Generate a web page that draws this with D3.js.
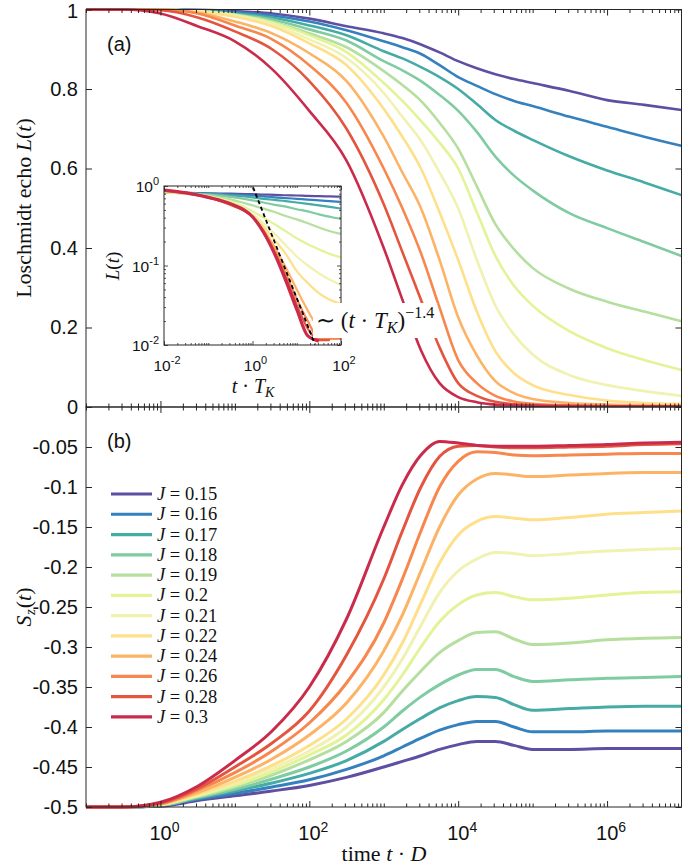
<!DOCTYPE html>
<html><head><meta charset="utf-8">
<script src="https://cdn.jsdelivr.net/npm/d3@7"></script>
<style>body{margin:0;background:#fff}</style>
</head><body>
<svg id="c" width="685" height="867" xmlns="http://www.w3.org/2000/svg"></svg>
<script>
// ---------- DATA ----------
const Jlabels = ["0.15","0.16","0.17","0.18","0.19","0.2","0.21","0.22","0.24","0.26","0.28","0.3"];
const colors = ["#5e4fa2","#3581bd","#47aba5","#7fcba2","#b5df9f","#e2f398","#f1f1b2","#fee08b","#fcb366","#f7874d","#e4553f","#cb2b4b"];

const timeGrid = [1e-1,3.16e-1,1,3.16,1e1,3.16e1,1e2,3.16e2,1e3,1.78e3,3.16e3,5.62e3,1e4,1.78e4,3.16e4,5.62e4,1e5,3.16e5,1e6,3.16e6,1e7];

// Loschmidt echo L(t), panel (a)
const echo015 = [1,1,1,0.999,0.996,0.99,0.977,0.958,0.94,0.928,0.912,0.892,0.87,0.852,0.837,0.825,0.815,0.795,0.772,0.76,0.747];
const echo016 = [1,1,1,0.998,0.993,0.985,0.97,0.948,0.92,0.905,0.888,0.86,0.83,0.808,0.787,0.77,0.757,0.73,0.705,0.68,0.657];
const echo017 = [1,1,1,0.997,0.99,0.98,0.96,0.935,0.895,0.877,0.855,0.83,0.8,0.762,0.722,0.695,0.672,0.63,0.595,0.565,0.533];
const echo018 = [1,1,1,0.997,0.988,0.975,0.95,0.922,0.87,0.847,0.82,0.785,0.745,0.692,0.63,0.582,0.545,0.487,0.45,0.415,0.38];
const echo019 = [1,1,1,0.996,0.987,0.97,0.94,0.905,0.845,0.81,0.77,0.715,0.65,0.555,0.46,0.397,0.35,0.297,0.265,0.24,0.216];
const echo020 = [1,1,1,0.996,0.986,0.967,0.935,0.893,0.815,0.77,0.72,0.665,0.6,0.49,0.38,0.305,0.255,0.19,0.148,0.118,0.093];
const echo021 = [1,1,1,0.995,0.984,0.963,0.925,0.878,0.79,0.73,0.67,0.59,0.5,0.37,0.255,0.182,0.132,0.08,0.055,0.04,0.028];
const echo022 = [1,1,1,0.994,0.982,0.958,0.915,0.86,0.75,0.68,0.6,0.49,0.37,0.24,0.14,0.085,0.055,0.03,0.016,0.01,0.008];
const echo024 = [1,1,1,0.992,0.97,0.94,0.89,0.82,0.68,0.59,0.5,0.37,0.226,0.13,0.065,0.035,0.02,0.01,0.006,0.004,0.003];
const echo026 = [1,1,1,0.99,0.96,0.925,0.86,0.765,0.6,0.5,0.387,0.25,0.118,0.06,0.028,0.014,0.008,0.004,0.003,0.002,0.002];
const echo028 = [1,1,0.998,0.98,0.945,0.9,0.82,0.7,0.51,0.39,0.27,0.15,0.06,0.028,0.013,0.007,0.004,0.003,0.002,0.002,0.002];
const echo030 = [1,1,0.99,0.958,0.92,0.85,0.745,0.62,0.4,0.27,0.143,0.06,0.025,0.012,0.006,0.004,0.003,0.002,0.002,0.002,0.002];

// S_z(t), panel (b)
const sz015 = [-0.5,-0.5,-0.499,-0.492,-0.486,-0.48,-0.473,-0.463,-0.45,-0.443,-0.436,-0.428,-0.422,-0.418,-0.418,-0.423,-0.428,-0.428,-0.427,-0.427,-0.427];
const sz016 = [-0.5,-0.5,-0.498,-0.49,-0.483,-0.475,-0.466,-0.453,-0.436,-0.425,-0.414,-0.404,-0.397,-0.393,-0.393,-0.4,-0.406,-0.406,-0.405,-0.405,-0.405];
const sz017 = [-0.5,-0.5,-0.498,-0.489,-0.48,-0.47,-0.458,-0.442,-0.418,-0.403,-0.389,-0.376,-0.367,-0.362,-0.363,-0.372,-0.379,-0.377,-0.375,-0.374,-0.374];
const sz018 = [-0.5,-0.5,-0.498,-0.488,-0.478,-0.465,-0.45,-0.43,-0.4,-0.38,-0.362,-0.347,-0.335,-0.328,-0.328,-0.337,-0.343,-0.341,-0.339,-0.338,-0.337];
const sz019 = [-0.5,-0.5,-0.497,-0.487,-0.475,-0.46,-0.441,-0.418,-0.382,-0.355,-0.33,-0.307,-0.292,-0.282,-0.281,-0.29,-0.297,-0.295,-0.291,-0.289,-0.288];
const sz020 = [-0.5,-0.5,-0.497,-0.486,-0.473,-0.456,-0.435,-0.41,-0.366,-0.335,-0.3,-0.268,-0.247,-0.235,-0.232,-0.237,-0.241,-0.239,-0.235,-0.232,-0.231];
const sz021 = [-0.5,-0.5,-0.497,-0.485,-0.47,-0.452,-0.43,-0.4,-0.35,-0.315,-0.273,-0.232,-0.205,-0.19,-0.182,-0.183,-0.186,-0.183,-0.18,-0.178,-0.177];
const sz022 = [-0.5,-0.5,-0.497,-0.484,-0.468,-0.448,-0.423,-0.39,-0.335,-0.295,-0.245,-0.195,-0.16,-0.143,-0.137,-0.139,-0.141,-0.138,-0.134,-0.132,-0.13];
const sz024 = [-0.5,-0.5,-0.496,-0.482,-0.463,-0.44,-0.41,-0.37,-0.305,-0.26,-0.205,-0.15,-0.11,-0.09,-0.083,-0.085,-0.087,-0.085,-0.083,-0.082,-0.082];
const sz026 = [-0.5,-0.5,-0.496,-0.479,-0.457,-0.43,-0.395,-0.345,-0.27,-0.215,-0.155,-0.1,-0.068,-0.056,-0.057,-0.06,-0.061,-0.06,-0.059,-0.058,-0.058];
const sz028 = [-0.5,-0.5,-0.495,-0.477,-0.45,-0.42,-0.38,-0.31,-0.215,-0.155,-0.1,-0.062,-0.049,-0.048,-0.05,-0.051,-0.051,-0.05,-0.049,-0.047,-0.046];
const sz030 = [-0.5,-0.5,-0.494,-0.474,-0.442,-0.405,-0.35,-0.265,-0.15,-0.097,-0.06,-0.043,-0.045,-0.048,-0.049,-0.049,-0.049,-0.048,-0.047,-0.045,-0.044];

// Inset: L vs t*T_K (log-log)
const insetTime = [1e-2,3.16e-2,1e-1,3.16e-1,1,1.78,3.16,5.62,1e1,1.78e1,3.16e1,5.62e1,1e2];
const inset015 = [0.83,0.82,0.81,0.8,0.79,0.78,0.775,0.765,0.76,0.75,0.745,0.74,0.733];
const inset016 = [0.83,0.82,0.8,0.78,0.76,0.74,0.72,0.705,0.69,0.675,0.66,0.645,0.63];
const inset017 = [0.83,0.81,0.79,0.76,0.72,0.69,0.67,0.645,0.62,0.595,0.57,0.545,0.52];
const inset018 = [0.83,0.81,0.78,0.73,0.66,0.62,0.58,0.55,0.51,0.48,0.44,0.41,0.385];
const inset019 = [0.83,0.8,0.76,0.68,0.57,0.52,0.47,0.42,0.38,0.34,0.3,0.27,0.25];
const inset020 = [0.84,0.8,0.74,0.64,0.48,0.4,0.33,0.27,0.22,0.185,0.16,0.14,0.126];
const inset021 = [0.84,0.8,0.73,0.61,0.44,0.34,0.25,0.18,0.13,0.1,0.08,0.066,0.057];
const inset022 = [0.85,0.8,0.73,0.6,0.42,0.31,0.21,0.14,0.085,0.06,0.045,0.037,0.033];
const inset024 = [0.86,0.81,0.72,0.59,0.41,0.28,0.17,0.095,0.05,0.027,0.016,0.012,0.012];
const inset026 = [0.87,0.81,0.72,0.58,0.41,0.27,0.155,0.08,0.038,0.02,0.012,0.012,0.012];
const inset028 = [0.88,0.82,0.72,0.58,0.41,0.27,0.145,0.072,0.032,0.016,0.0115,0.0115,null];
const inset030 = [0.89,0.82,0.72,0.6,0.41,0.26,0.14,0.065,0.028,0.013,0.0112,null,null];
// power-law guide ~ (t T_K)^-1.4
const guideTime = [1.03, 26];
const guideL = [0.96, 0.0101];

const xTickMajor = [1e0,1e2,1e4,1e6];
const xTickExp = ["0","2","4","6"];
const yTicksTop = [0,0.2,0.4,0.6,0.8,1];
const yTicksTopLabels = ["0","0.2","0.4","0.6","0.8","1"];
const yTicksBot = [-0.5,-0.45,-0.4,-0.35,-0.3,-0.25,-0.2,-0.15,-0.1,-0.05];
const yTicksBotLabels = ["-0.5","-0.45","-0.4","-0.35","-0.3","-0.25","-0.2","-0.15","-0.1","-0.05"];
const insetXTicks = [1e-2,1e0,1e2];
const insetXExp = ["-2","0","2"];
const insetYTicks = [1e-2,1e-1,1e0];
const insetYExp = ["-2","-1","0"];

const echoSeries = [echo015,echo016,echo017,echo018,echo019,echo020,echo021,echo022,echo024,echo026,echo028,echo030];
const szSeries = [sz015,sz016,sz017,sz018,sz019,sz020,sz021,sz022,sz024,sz026,sz028,sz030];
const insetSeries = [inset015,inset016,inset017,inset018,inset019,inset020,inset021,inset022,inset024,inset026,inset028,inset030];

// ---------- LAYOUT ----------
const svg = d3.select("#c");
const AX = "#262626";
const SANS = "'Liberation Sans', Arial, Helvetica, sans-serif";
const SERIF = "'Liberation Serif', 'Times New Roman', serif";
const X0 = 86, X1 = 681.5;
const x = d3.scaleLog().domain([1e-1,1e7]).range([X0,X1]);
const yTop = d3.scaleLinear().domain([0,1]).range([407,9.5]);
const yBot = d3.scaleLinear().domain([-0.5,0]).range([807,407]);

const minorVals = [];
for (let e=-1;e<7;e++) for (let m=1;m<10;m++){ const v=m*Math.pow(10,e); if(v>=1e-1 && v<=1e7) minorVals.push(v);} 
const minorOnly = minorVals.filter(v => !xTickMajor.some(M => Math.abs(v-M)/M<1e-9));

const defs = svg.append("defs");
defs.append("clipPath").attr("id","clipTop").append("rect").attr("x",X0).attr("y",yTop(1)-3).attr("width",X1-X0).attr("height",yTop(0)-yTop(1)+3);
defs.append("clipPath").attr("id","clipBot").append("rect").attr("x",X0).attr("y",yBot(0)).attr("width",X1-X0).attr("height",yBot(-0.5)-yBot(0)+3);

function frameAxes(y, ticks, labels, yTopPx, yBotPx){
  const g = svg.append("g");
  const la = d3.axisLeft(y).tickValues(ticks).tickFormat((d,i)=>labels[i]).tickSize(-6).tickSizeOuter(0).tickPadding(8);
  const gl = g.append("g").attr("transform",`translate(${X0},0)`).call(la);
  gl.select(".domain").remove();
  gl.selectAll("line").attr("stroke",AX);
  gl.selectAll("text").style("font-family",SANS).style("font-size","20px").attr("fill","#111");
  const ra = d3.axisRight(y).tickValues(ticks).tickFormat("").tickSize(-6).tickSizeOuter(0);
  const gr = g.append("g").attr("transform",`translate(${X1},0)`).call(ra);
  gr.select(".domain").remove(); gr.selectAll("line").attr("stroke",AX);
  [[yTopPx, d3.axisTop],[yBotPx, d3.axisBottom]].forEach(([py, axf])=>{
    const gM = g.append("g").attr("transform",`translate(0,${py})`).call(axf(x).tickValues(xTickMajor).tickFormat("").tickSize(-6).tickSizeOuter(0));
    gM.select(".domain").remove(); gM.selectAll("line").attr("stroke",AX);
    const gm = g.append("g").attr("transform",`translate(0,${py})`).call(axf(x).tickValues(minorOnly).tickFormat("").tickSize(-3.5).tickSizeOuter(0));
    gm.select(".domain").remove(); gm.selectAll("line").attr("stroke",AX);
  });
  g.append("rect").attr("x",X0).attr("y",yTopPx).attr("width",X1-X0).attr("height",yBotPx-yTopPx)
    .attr("fill","none").attr("stroke",AX).attr("stroke-width",1);
  return gl;
}

const lineTop = d3.line().x(d=>x(d[0])).y(d=>yTop(d[1])).curve(d3.curveMonotoneX);
const lineBot = d3.line().x(d=>x(d[0])).y(d=>yBot(d[1])).curve(d3.curveMonotoneX);

// ---------- PANEL (a) ----------
const gA = svg.append("g").attr("clip-path","url(#clipTop)");
echoSeries.forEach((s,i)=>{
  gA.append("path").datum(timeGrid.map((t,k)=>[t,s[k]])).attr("d",lineTop)
    .attr("fill","none").attr("stroke",colors[i]).attr("stroke-width",2.6).attr("stroke-linejoin","round");
});

// ---------- PANEL (b) ----------
const gB = svg.append("g").attr("clip-path","url(#clipBot)");
szSeries.forEach((s,i)=>{
  gB.append("path").datum(timeGrid.map((t,k)=>[t,s[k]])).attr("d",lineBot)
    .attr("fill","none").attr("stroke",colors[i]).attr("stroke-width",3).attr("stroke-linejoin","round");
});

const glTop = frameAxes(yTop, yTicksTop, yTicksTopLabels, yTop(1), yTop(0));
glTop.selectAll(".tick").filter(d=>d===1).select("text").attr("dy","0.38em");
frameAxes(yBot, yTicksBot, yTicksBotLabels, yBot(0), yBot(-0.5));

function powLabel(parent, px, py, exp, size, sup, anchor){
  const t = parent.append("text").attr("x",px).attr("y",py).attr("text-anchor",anchor||"middle")
    .style("font-family",SANS).style("font-size",size+"px").attr("fill","#111");
  t.append("tspan").text("10");
  t.append("tspan").attr("dy",-size*0.42).style("font-size",sup+"px").text(exp);
  return t;
}
xTickMajor.forEach((v,i)=> powLabel(svg, x(v)+4, 840, xTickExp[i], 20, 14));

// axis titles
const tA = svg.append("text").attr("transform","translate(31,208) rotate(-90)").attr("text-anchor","middle")
  .style("font-family",SERIF).style("font-size","22px").attr("fill","#111");
tA.append("tspan").text("Loschmidt echo ");
tA.append("tspan").style("font-style","italic").text("L");
tA.append("tspan").text("(");
tA.append("tspan").style("font-style","italic").text("t");
tA.append("tspan").text(")");

const tB = svg.append("text").attr("transform","translate(31,607) rotate(-90)").attr("text-anchor","middle")
  .style("font-family",SERIF).style("font-size","22px").attr("fill","#111");
tB.append("tspan").style("font-style","italic").text("S");
tB.append("tspan").style("font-style","italic").style("font-size","15px").attr("dx",0.5).attr("dy",4).text("z");
tB.append("tspan").attr("dx",1).attr("dy",-4).text("(");
tB.append("tspan").style("font-style","italic").text("t");
tB.append("tspan").text(")");

const tX = svg.append("text").attr("x",384).attr("y",861).attr("text-anchor","middle")
  .style("font-family",SERIF).style("font-size","22px").attr("fill","#111");
tX.append("tspan").text("time ");
tX.append("tspan").style("font-style","italic").text("t");
tX.append("tspan").text(" \u00b7 ");
tX.append("tspan").style("font-style","italic").text("D");

// panel letters
svg.append("text").attr("x",107).attr("y",51).style("font-family",SANS).style("font-size","20px").attr("fill","#111").text("(a)");
svg.append("text").attr("x",107).attr("y",448).style("font-family",SANS).style("font-size","20px").attr("fill","#111").text("(b)");

// legend
const lg = svg.append("g");
Jlabels.forEach((J,i)=>{
  const cy = 494 + i*20.27;
  lg.append("line").attr("x1",111).attr("x2",152).attr("y1",cy).attr("y2",cy).attr("stroke",colors[i]).attr("stroke-width",3.2);
  const t = lg.append("text").attr("x",157).attr("y",cy+6).style("font-family",SERIF).style("font-size","18.5px").attr("fill","#111");
  t.append("tspan").style("font-style","italic").text("J");
  t.append("tspan").text(" = " + J);
});

// ---------- INSET ----------
const IX0=164, IX1=341, IY0=186, IY1=345;
const xi = d3.scaleLog().domain([1e-2,1e2]).range([IX0,IX1]);
const yi = d3.scaleLog().domain([1e-2,1e0]).range([IY1,IY0]);
svg.append("rect").attr("x",IX0).attr("y",IY0).attr("width",IX1-IX0).attr("height",IY1-IY0).attr("fill","#fff");
defs.append("clipPath").attr("id","clipIn").append("rect").attr("x",IX0).attr("y",IY0-2).attr("width",IX1-IX0).attr("height",IY1-IY0+2);
const gI = svg.append("g").attr("clip-path","url(#clipIn)");
const lineIn = d3.line().defined(d=>d[1]!=null).x(d=>xi(d[0])).y(d=>yi(d[1])).curve(d3.curveMonotoneX);
insetSeries.forEach((s,i)=>{
  gI.append("path").datum(insetTime.map((t,k)=>[t,s[k]])).attr("d",lineIn)
    .attr("fill","none").attr("stroke",colors[i]).attr("stroke-width", i===11?3.2:2.2).attr("stroke-linejoin","round");
});
gI.append("path").datum(guideTime.map((t,k)=>[t,guideL[k]])).attr("d",d3.line().x(d=>xi(d[0])).y(d=>yi(d[1])))
  .attr("fill","none").attr("stroke","#000").attr("stroke-width",1.8).attr("stroke-dasharray","4,3");

const inMinorX=[], inMinorY=[];
for (let e=-2;e<2;e++) for (let m=2;m<10;m++) inMinorX.push(m*Math.pow(10,e));
[1e-1,1e1].forEach(v=>inMinorX.push(v));
for (let e=-2;e<0;e++) for (let m=2;m<10;m++) inMinorY.push(m*Math.pow(10,e));
function inTicks(axf, scale, vals, size, tx, ty){
  const g = svg.append("g").attr("transform",`translate(${tx},${ty})`).call(axf(scale).tickValues(vals).tickFormat("").tickSize(-size).tickSizeOuter(0));
  g.select(".domain").remove(); g.selectAll("line").attr("stroke",AX).attr("stroke-width",0.8);
}
inTicks(d3.axisBottom, xi, insetXTicks, 4, 0, IY1);
inTicks(d3.axisBottom, xi, inMinorX, 2, 0, IY1);
inTicks(d3.axisTop, xi, insetXTicks, 4, 0, IY0);
inTicks(d3.axisTop, xi, inMinorX, 2, 0, IY0);
inTicks(d3.axisLeft, yi, insetYTicks, 4, IX0, 0);
inTicks(d3.axisLeft, yi, inMinorY, 2, IX0, 0);
inTicks(d3.axisRight, yi, insetYTicks, 4, IX1, 0);
inTicks(d3.axisRight, yi, inMinorY, 2, IX1, 0);
svg.append("rect").attr("x",IX0).attr("y",IY0).attr("width",IX1-IX0).attr("height",IY1-IY0).attr("fill","none").attr("stroke",AX).attr("stroke-width",1);

insetXTicks.forEach((v,i)=> powLabel(svg, xi(v)+3, 371, insetXExp[i], 15.5, 11));
insetYTicks.forEach((v,i)=> powLabel(svg, IX0-5, yi(v)+6, insetYExp[i], 15.5, 11, "end"));

const tIL = svg.append("text").attr("transform","translate(119,266) rotate(-90)").attr("text-anchor","middle")
  .style("font-family",SERIF).style("font-size","19px").attr("fill","#111");
tIL.append("tspan").style("font-style","italic").text("L");
tIL.append("tspan").text("(");
tIL.append("tspan").style("font-style","italic").text("t");
tIL.append("tspan").text(")");

const tIX = svg.append("text").attr("x",253).attr("y",393).attr("text-anchor","middle")
  .style("font-family",SERIF).style("font-size","20px").attr("fill","#111");
tIX.append("tspan").style("font-style","italic").text("t");
tIX.append("tspan").text(" \u00b7 ");
tIX.append("tspan").style("font-style","italic").text("T");
tIX.append("tspan").style("font-style","italic").style("font-size","14px").attr("dy",4).text("K");

// annotation with white background
const ann = svg.append("g");
const annBg = ann.append("rect").attr("fill","#fff");
const tAn = ann.append("text").attr("x",316).attr("y",328)
  .style("font-family",SERIF).style("font-size","23px").attr("fill","#111");
tAn.append("tspan").text("\u223c (");
tAn.append("tspan").style("font-style","italic").text("t");
tAn.append("tspan").text(" \u00b7 ");
tAn.append("tspan").style("font-style","italic").text("T");
tAn.append("tspan").style("font-style","italic").style("font-size","16px").attr("dy",5).text("K");
tAn.append("tspan").attr("dy",-5).text(")");
tAn.append("tspan").style("font-size","16px").attr("dy",-10).text("\u22121.4");
const bb = tAn.node().getBBox();
annBg.attr("x",bb.x-3).attr("y",bb.y-1).attr("width",bb.width+6).attr("height",bb.height+3);
</script>
</body></html>
